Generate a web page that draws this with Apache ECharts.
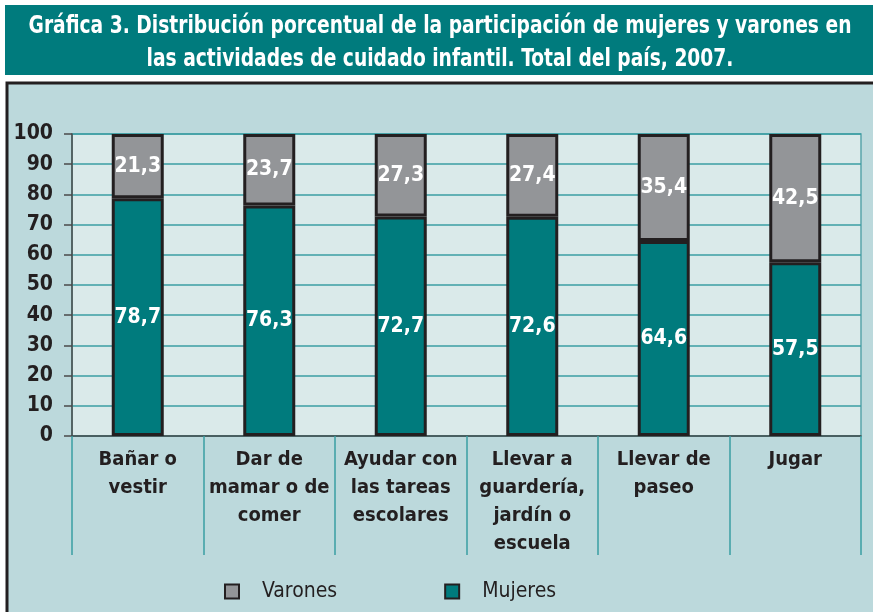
<!DOCTYPE html>
<html><head><meta charset="utf-8">
<script src="https://cdn.jsdelivr.net/npm/echarts@6/dist/echarts.min.js"></script>
<style>html,body{margin:0;padding:0;background:#fff}#c{width:873px;height:612px}</style>
</head><body><div id="c"></div>
<script>
const categories = ["Bañar o\nvestir", "Dar de\nmamar o de\ncomer", "Ayudar con\nlas tareas\nescolares", "Llevar a\nguardería,\njardín o\nescuela", "Llevar de\npaseo", "Jugar"];
const mujeres = [78.7, 76.3, 72.7, 72.6, 64.6, 57.5];
const varones = [21.3, 23.7, 27.3, 27.4, 35.4, 42.5];
const yTicks = {min: 0, max: 100, interval: 10};
const titleLines = ['Gráfica 3. Distribución porcentual de la participación de mujeres y varones en', 'las actividades de cuidado infantil. Total del país, 2007.'];

const FONT = '"DejaVu Sans Condensed","Liberation Sans Narrow",sans-serif';
const fmt = p => p.value.toFixed(1).replace('.', ',');
const chart = echarts.init(document.getElementById('c'), null, {renderer: 'canvas'});
chart.setOption({
  animation: false,
  backgroundColor: '#ffffff',
  graphic: [
    {type: 'rect', z: -10, shape: {x: 5, y: 5, width: 870, height: 70}, style: {fill: '#007B7D'}},
    {type: 'rect', z: -10, shape: {x: 7, y: 83, width: 880, height: 540}, style: {fill: '#BCD9DC', stroke: '#231F20', lineWidth: 3}},
    {type: 'text', z: 10, x: 440, y: 10, scaleX: 0.83, style: {text: titleLines.join('\n'), fill: '#ffffff', font: 'bold 25px ' + FONT, lineHeight: 33, align: 'center', verticalAlign: 'top'}}
  ],
  legend: {
    data: ['Varones', 'Mujeres'],
    left: 219, top: 576, itemWidth: 14, itemHeight: 14, itemGap: 107, icon: 'rect',
    textStyle: {fontFamily: FONT, fontSize: 21, color: '#231F20', padding: [0, 0, 0, 18]}
  },
  grid: {left: 72, right: 12, top: 134, bottom: 176, show: true, backgroundColor: '#DAEAEA', borderColor: '#5AA5AA', borderWidth: 1.5},
  xAxis: {
    type: 'category', data: categories,
    axisLine: {lineStyle: {color: '#4A4A4A', width: 1.5}},
    axisTick: {show: true, interval: 0, length: 119, lineStyle: {color: '#3A9EA3', width: 1.5}},
    axisLabel: {interval: 0, margin: 10, color: '#231F20', fontFamily: FONT, fontWeight: 'bold', fontSize: 20, lineHeight: 28}
  },
  yAxis: {
    type: 'value', min: yTicks.min, max: yTicks.max, interval: yTicks.interval,
    axisLine: {show: true, lineStyle: {color: '#4A4A4A', width: 1.5}},
    axisTick: {show: true, length: 8, lineStyle: {color: '#4A4A4A', width: 1.5}},
    splitLine: {lineStyle: {color: '#3A9EA3', width: 1.5}},
    axisLabel: {color: '#231F20', fontFamily: FONT, fontWeight: 'bold', fontSize: 21, margin: 19}
  },
  series: [
    {name: 'Mujeres', type: 'bar', stack: 't', data: mujeres, barWidth: 52,
      itemStyle: {color: '#007B7D', borderColor: '#231F20', borderWidth: 3},
      label: {show: true, position: 'inside', formatter: fmt, color: '#fff', fontFamily: FONT, fontWeight: 'bold', fontSize: 21}},
    {name: 'Varones', type: 'bar', stack: 't', data: varones, barWidth: 52,
      itemStyle: {color: '#939598', borderColor: '#231F20', borderWidth: 3},
      label: {show: true, position: 'inside', formatter: fmt, color: '#fff', fontFamily: FONT, fontWeight: 'bold', fontSize: 21}}
  ]
});
</script></body></html>
